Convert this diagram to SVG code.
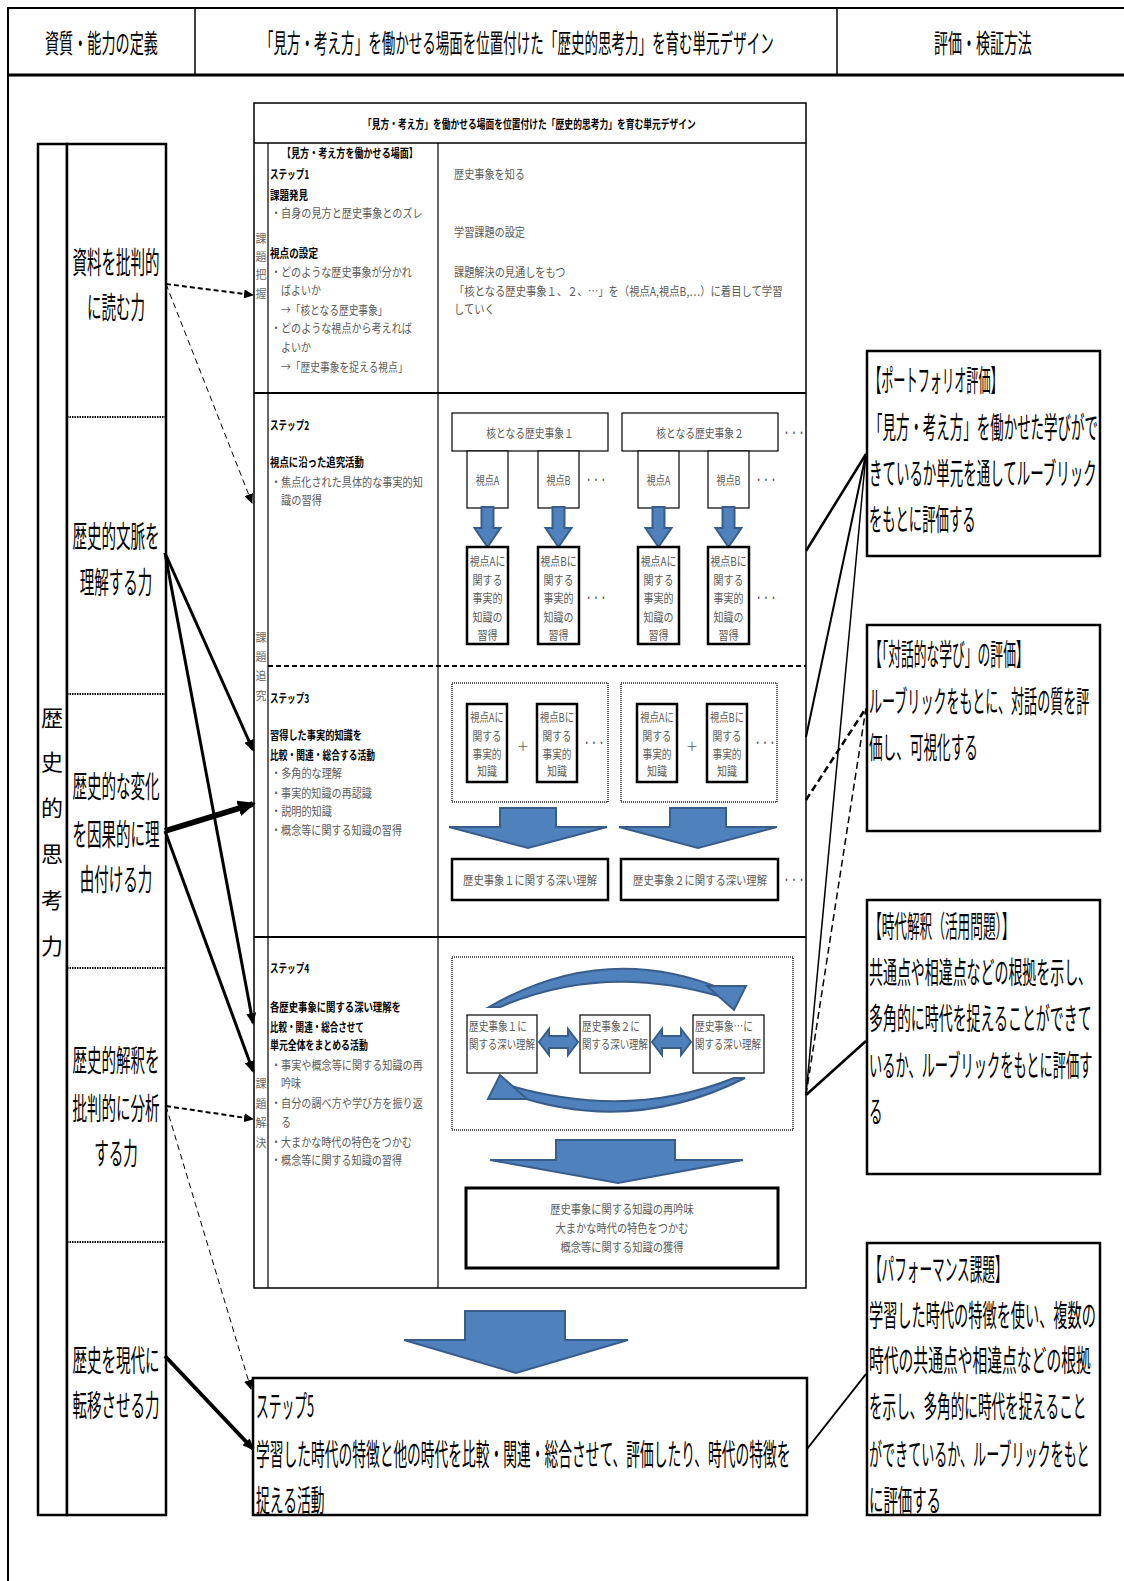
<svg xmlns="http://www.w3.org/2000/svg" width="1124" height="1581" viewBox="0 0 1124 1581">
<style>
text{font-family:"Noto Sans CJK JP","Noto Sans",sans-serif;dominant-baseline:central}
.hd{font-size:26px;fill:#000}
.lf{font-size:30px;fill:#000;text-anchor:middle}
.vt{font-size:22px;fill:#000;text-anchor:middle}
.tt{font-size:12px;fill:#000;font-weight:bold}
.sb{font-size:12px;fill:#000;font-weight:bold}
.sm{font-size:12px;fill:#5a5a5a}
.smc{font-size:12px;fill:#5a5a5a;text-anchor:middle}
.lb{font-size:11px;fill:#6a6a6a;text-anchor:middle}
.rb{font-size:30px;fill:#000}
.bx{fill:#fff;stroke:#000;stroke-width:1.2}
.tk{fill:#fff;stroke:#000;stroke-width:2.5}
.dot{fill:none;stroke:#555;stroke-width:2;stroke-dasharray:1 1}
.blue{fill:#4f81bd;stroke:#385d8a;stroke-width:2}
.ln{stroke:#000;fill:none}
</style>
<defs>
<marker id="ah" viewBox="0 0 12 10" refX="10" refY="5" markerWidth="12" markerHeight="10" markerUnits="userSpaceOnUse" orient="auto"><path d="M0,0 L12,5 L0,10 z" fill="#000"/></marker>
<marker id="ahL" viewBox="0 0 18 16" refX="15" refY="8" markerWidth="18" markerHeight="16" markerUnits="userSpaceOnUse" orient="auto"><path d="M0,0 L18,8 L0,16 z" fill="#000"/></marker>
<marker id="ahS" viewBox="0 0 10 9" refX="9" refY="4.5" markerWidth="10" markerHeight="9" markerUnits="userSpaceOnUse" orient="auto"><path d="M0,0 L10,4.5 L0,9 z" fill="#000"/></marker>
</defs>
<rect width="1124" height="1581" fill="#fff"/>

<g id="header">
<line class="ln" x1="8" y1="8" x2="1124" y2="8" stroke-width="2"/>
<line class="ln" x1="8" y1="75" x2="1124" y2="75" stroke-width="3"/>
<line class="ln" x1="8" y1="7" x2="8" y2="1581" stroke-width="2"/>
<line class="ln" x1="195" y1="8" x2="195" y2="75" stroke-width="1.5"/>
<line class="ln" x1="837" y1="8" x2="837" y2="75" stroke-width="1.5"/>
<text class="hd" transform="translate(45,42) scale(.543,1)">資質・能力の定義</text>
<text class="hd" transform="translate(260,42) scale(.52,1)">「見方・考え方」を働かせる場面を位置付けた「歴史的思考力」を育む単元デザイン</text>
<text class="hd" transform="translate(934,42) scale(.538,1)">評価・検証方法</text>
</g>

<g id="competencies">
<rect x="38" y="144" width="29" height="1371" fill="#fff" stroke="#000" stroke-width="2.5"/>
<rect x="67" y="144" width="99" height="1371" fill="#fff" stroke="#000" stroke-width="2.5"/>
<g class="ln" stroke-width="2" stroke-dasharray="1.5 1" stroke="#333">
<line x1="67" y1="417" x2="166" y2="417"/>
<line x1="67" y1="694" x2="166" y2="694"/>
<line x1="67" y1="968" x2="166" y2="968"/>
<line x1="67" y1="1242" x2="166" y2="1242"/>
</g>
<text class="vt" x="52" y="716">歴</text>
<text class="vt" x="52" y="760">史</text>
<text class="vt" x="52" y="806">的</text>
<text class="vt" x="52" y="852">思</text>
<text class="vt" x="52" y="898">考</text>
<text class="vt" x="52" y="944">力</text>
<g id="c1"><text class="lf" transform="translate(116,260) scale(.485,1)">資料を批判的</text><text class="lf" transform="translate(116,305) scale(.485,1)">に読む力</text></g>
<g id="c2"><text class="lf" transform="translate(116,534) scale(.485,1)">歴史的文脈を</text><text class="lf" transform="translate(116,580) scale(.485,1)">理解する力</text></g>
<g id="c3"><text class="lf" transform="translate(116,784) scale(.485,1)">歴史的な変化</text><text class="lf" transform="translate(116,832) scale(.485,1)">を因果的に理</text><text class="lf" transform="translate(116,877) scale(.485,1)">由付ける力</text></g>
<g id="c4"><text class="lf" transform="translate(116,1058) scale(.485,1)">歴史的解釈を</text><text class="lf" transform="translate(116,1106) scale(.485,1)">批判的に分析</text><text class="lf" transform="translate(116,1151) scale(.485,1)">する力</text></g>
<g id="c5"><text class="lf" transform="translate(116,1358) scale(.485,1)">歴史を現代に</text><text class="lf" transform="translate(116,1403) scale(.485,1)">転移させる力</text></g>
</g>

<g id="unit-table">
<rect x="254" y="103" width="552" height="1185" fill="#fff" stroke="#000" stroke-width="1.5"/>
<line class="ln" x1="254" y1="143" x2="806" y2="143" stroke-width="1.5"/>
<line class="ln" x1="268" y1="143" x2="268" y2="1288" stroke-width="1.2"/>
<line class="ln" x1="438" y1="143" x2="438" y2="1288" stroke-width="1.2"/>
<line class="ln" x1="254" y1="393" x2="806" y2="393" stroke-width="2"/>
<line class="ln" x1="268" y1="666" x2="806" y2="666" stroke-width="2" stroke-dasharray="5 3"/>
<line class="ln" x1="254" y1="937" x2="806" y2="937" stroke-width="2"/>
<text class="tt" transform="translate(363,124) scale(.73,1)">「見方・考え方」を働かせる場面を位置付けた「歴史的思考力」を育む単元デザイン</text>
<text class="lb" x="261" y="238">課</text><text class="lb" x="261" y="256">題</text><text class="lb" x="261" y="274">把</text><text class="lb" x="261" y="293">握</text>
<text class="lb" x="261" y="637">課</text><text class="lb" x="261" y="656">題</text><text class="lb" x="261" y="675">追</text><text class="lb" x="261" y="695">究</text>
<text class="lb" x="261" y="1083">課</text><text class="lb" x="261" y="1103">題</text><text class="lb" x="261" y="1122">解</text><text class="lb" x="261" y="1142">決</text>
</g>

<g id="step1">
<text class="sb" transform="translate(282,153) scale(.756,1)">【見方・考え方を働かせる場面】</text>
<text class="sb" transform="translate(270,174) scale(.714,1)">ステップ1</text>
<text class="sb" transform="translate(270,194) scale(.79,1)">課題発見</text>
<text class="sm" transform="translate(271,213) scale(.844,1)">・自身の見方と歴史事象とのズレ</text>
<text class="sb" transform="translate(270,252) scale(.8,1)">視点の設定</text>
<text class="sm" transform="translate(271,272) scale(.839,1)">・どのような歴史事象が分かれ</text>
<text class="sm" transform="translate(281,290) scale(.833,1)">ばよいか</text>
<text class="sm" transform="translate(281,310) scale(.81,1)">→「核となる歴史事象」</text>
<text class="sm" transform="translate(271,328) scale(.839,1)">・どのような視点から考えれば</text>
<text class="sm" transform="translate(281,347) scale(.833,1)">よいか</text>
<text class="sm" transform="translate(281,367) scale(.814,1)">→「歴史事象を捉える視点」</text>
<text class="sm" transform="translate(454,174) scale(.845,1)">歴史事象を知る</text>
<text class="sm" transform="translate(454,232) scale(.845,1)">学習課題の設定</text>
<text class="sm" transform="translate(454,272) scale(.848,1)">課題解決の見通しをもつ</text>
<text class="sm" transform="translate(454,291) scale(.861,1)">「核となる歴史事象１、２、…」を（視点A,視点B,…）に着目して学習</text>
<text class="sm" transform="translate(454,309) scale(.854,1)">していく</text>
</g>

<g id="step2">
<text class="sb" transform="translate(270,425) scale(.714,1)">ステップ2</text>
<text class="sb" transform="translate(270,462) scale(.783,1)">視点に沿った追究活動</text>
<text class="sm" transform="translate(271,482) scale(.844,1)">・焦点化された具体的な事実的知</text>
<text class="sm" transform="translate(281,500) scale(.854,1)">識の習得</text>
<g id="core1"><rect class="bx" x="452" y="413" width="156" height="38"/><text class="smc" transform="translate(530,433) scale(.815,1)">核となる歴史事象１</text></g>
<g id="core2"><rect class="bx" x="622" y="413" width="156" height="38"/><text class="smc" transform="translate(700,433) scale(.815,1)">核となる歴史事象２</text></g>
<text class="smc" transform="translate(794,433) scale(.62,1)">・・・</text>
<g id="vp1"><rect class="bx" x="467" y="451" width="41" height="57"/><text class="smc" transform="translate(487.5,480) scale(.76,1)">視点A</text></g>
<g id="vp2"><rect class="bx" x="538" y="451" width="41" height="57"/><text class="smc" transform="translate(558.5,480) scale(.76,1)">視点B</text></g>
<g id="vp3"><rect class="bx" x="638" y="451" width="41" height="57"/><text class="smc" transform="translate(658.5,480) scale(.76,1)">視点A</text></g>
<g id="vp4"><rect class="bx" x="708" y="451" width="41" height="57"/><text class="smc" transform="translate(728.5,480) scale(.76,1)">視点B</text></g>
<text class="smc" transform="translate(596,480) scale(.61,1)">・・・</text>
<text class="smc" transform="translate(766,480) scale(.61,1)">・・・</text>
<polygon class="blue" points="481.5,507 493.5,507 493.5,528 500.5,528 487.5,547 474.5,528 481.5,528"/>
<polygon class="blue" points="552.5,507 564.5,507 564.5,528 571.5,528 558.5,547 545.5,528 552.5,528"/>
<polygon class="blue" points="652.5,507 664.5,507 664.5,528 671.5,528 658.5,547 645.5,528 652.5,528"/>
<polygon class="blue" points="722.5,507 734.5,507 734.5,528 741.5,528 728.5,547 715.5,528 722.5,528"/>
<g id="fk1"><rect class="tk" x="467" y="547" width="41" height="97"/><text class="smc" transform="translate(487.5,561) scale(.826,1)">視点Aに</text><text class="smc" transform="translate(487.5,580) scale(.833,1)">関する</text><text class="smc" transform="translate(487.5,598) scale(.833,1)">事実的</text><text class="smc" transform="translate(487.5,617) scale(.833,1)">知識の</text><text class="smc" transform="translate(487.5,635) scale(.833,1)">習得</text></g>
<g id="fk2"><rect class="tk" x="538" y="547" width="41" height="97"/><text class="smc" transform="translate(558.5,561) scale(.826,1)">視点Bに</text><text class="smc" transform="translate(558.5,580) scale(.833,1)">関する</text><text class="smc" transform="translate(558.5,598) scale(.833,1)">事実的</text><text class="smc" transform="translate(558.5,617) scale(.833,1)">知識の</text><text class="smc" transform="translate(558.5,635) scale(.833,1)">習得</text></g>
<g id="fk3"><rect class="tk" x="638" y="547" width="41" height="97"/><text class="smc" transform="translate(658.5,561) scale(.826,1)">視点Aに</text><text class="smc" transform="translate(658.5,580) scale(.833,1)">関する</text><text class="smc" transform="translate(658.5,598) scale(.833,1)">事実的</text><text class="smc" transform="translate(658.5,617) scale(.833,1)">知識の</text><text class="smc" transform="translate(658.5,635) scale(.833,1)">習得</text></g>
<g id="fk4"><rect class="tk" x="708" y="547" width="41" height="97"/><text class="smc" transform="translate(728.5,561) scale(.826,1)">視点Bに</text><text class="smc" transform="translate(728.5,580) scale(.833,1)">関する</text><text class="smc" transform="translate(728.5,598) scale(.833,1)">事実的</text><text class="smc" transform="translate(728.5,617) scale(.833,1)">知識の</text><text class="smc" transform="translate(728.5,635) scale(.833,1)">習得</text></g>
<text class="smc" transform="translate(596,598) scale(.61,1)">・・・</text>
<text class="smc" transform="translate(766,598) scale(.61,1)">・・・</text>
</g>

<g id="step3">
<text class="sb" transform="translate(270,698) scale(.714,1)">ステップ3</text>
<text class="sb" transform="translate(270,735) scale(.767,1)">習得した事実的知識を</text>
<text class="sb" transform="translate(270,755) scale(.729,1)">比較・関連・総合する活動</text>
<text class="sm" transform="translate(271,773) scale(.845,1)">・多角的な理解</text>
<text class="sm" transform="translate(271,793) scale(.842,1)">・事実的知識の再認識</text>
<text class="sm" transform="translate(271,811) scale(.847,1)">・説明的知識</text>
<text class="sm" transform="translate(271,830) scale(.84,1)">・概念等に関する知識の習得</text>
<rect class="dot" x="452" y="683" width="156" height="119"/>
<rect class="dot" x="621" y="683" width="156" height="119"/>
<g id="k1"><rect class="tk" x="467" y="704" width="40" height="78"/><text class="smc" transform="translate(487,717) scale(.78,1)">視点Aに</text><text class="smc" transform="translate(487,735) scale(.806,1)">関する</text><text class="smc" transform="translate(487,753) scale(.806,1)">事実的</text><text class="smc" transform="translate(487,771) scale(.833,1)">知識</text></g>
<g id="k2"><rect class="tk" x="537" y="704" width="40" height="78"/><text class="smc" transform="translate(557,717) scale(.78,1)">視点Bに</text><text class="smc" transform="translate(557,735) scale(.806,1)">関する</text><text class="smc" transform="translate(557,753) scale(.806,1)">事実的</text><text class="smc" transform="translate(557,771) scale(.833,1)">知識</text></g>
<g id="k3"><rect class="tk" x="637" y="704" width="40" height="78"/><text class="smc" transform="translate(657,717) scale(.78,1)">視点Aに</text><text class="smc" transform="translate(657,735) scale(.806,1)">関する</text><text class="smc" transform="translate(657,753) scale(.806,1)">事実的</text><text class="smc" transform="translate(657,771) scale(.833,1)">知識</text></g>
<g id="k4"><rect class="tk" x="707" y="704" width="40" height="78"/><text class="smc" transform="translate(727,717) scale(.78,1)">視点Bに</text><text class="smc" transform="translate(727,735) scale(.806,1)">関する</text><text class="smc" transform="translate(727,753) scale(.806,1)">事実的</text><text class="smc" transform="translate(727,771) scale(.833,1)">知識</text></g>
<text class="smc" x="523" y="745">＋</text>
<text class="smc" x="692" y="745">＋</text>
<text class="smc" transform="translate(594,743) scale(.61,1)">・・・</text>
<text class="smc" transform="translate(765,743) scale(.61,1)">・・・</text>
<polygon class="blue" points="500,808 556,808 556,827 607,827 528,848 449,827 500,827"/>
<polygon class="blue" points="670,808 726,808 726,827 777,827 698,848 619,827 670,827"/>
<g id="du1"><rect class="tk" x="452" y="859" width="156" height="41"/><text class="smc" transform="translate(530,880) scale(.859,1)">歴史事象１に関する深い理解</text></g>
<g id="du2"><rect class="tk" x="621" y="859" width="157" height="41"/><text class="smc" transform="translate(700,880) scale(.859,1)">歴史事象２に関する深い理解</text></g>
<text class="smc" transform="translate(794,880) scale(.62,1)">・・・</text>
</g>

<g id="step4">
<text class="sb" transform="translate(270,968) scale(.714,1)">ステップ4</text>
<text class="sb" transform="translate(270,1007) scale(.78,1)">各歴史事象に関する深い理解を</text>
<text class="sb" transform="translate(270,1027) scale(.712,1)">比較・関連・総合させて</text>
<text class="sb" transform="translate(270,1045) scale(.742,1)">単元全体をまとめる活動</text>
<text class="sm" transform="translate(271,1065) scale(.844,1)">・事実や概念等に関する知識の再</text>
<text class="sm" transform="translate(281,1083) scale(.833,1)">吟味</text>
<text class="sm" transform="translate(271,1103) scale(.844,1)">・自分の調べ方や学び方を振り返</text>
<text class="sm" transform="translate(281,1122) scale(.84,1)">る</text>
<text class="sm" transform="translate(271,1142) scale(.839,1)">・大まかな時代の特色をつかむ</text>
<text class="sm" transform="translate(271,1160) scale(.84,1)">・概念等に関する知識の習得</text>
<rect class="dot" x="452" y="957" width="341" height="173"/>
<path class="blue" d="M489,1007 Q604,941 722,989 L722,997 Q604,962 500,1007 Z"/>
<polygon class="blue" points="707,986 746,986 734,1010"/>
<path class="blue" d="M745,1078 Q630,1136 511,1094 L511,1086 Q630,1120 734,1078 Z"/>
<polygon class="blue" points="527,1099 488,1099 500,1075"/>
<g id="e1"><rect class="bx" x="467" y="1015" width="70" height="58" stroke-width="2"/><text class="sm" transform="translate(469,1025) scale(.806,1)">歴史事象１に</text><text class="sm" transform="translate(469,1043) scale(.786,1)">関する深い理解</text></g>
<g id="e2"><rect class="bx" x="580" y="1015" width="70" height="58" stroke-width="2"/><text class="sm" transform="translate(582,1025) scale(.806,1)">歴史事象２に</text><text class="sm" transform="translate(582,1043) scale(.786,1)">関する深い理解</text></g>
<g id="e3"><rect class="bx" x="693" y="1015" width="71" height="58" stroke-width="2"/><text class="sm" transform="translate(695,1025) scale(.806,1)">歴史事象…に</text><text class="sm" transform="translate(695,1043) scale(.786,1)">関する深い理解</text></g>
<path class="blue" d="M539,1042 L549,1029 L549,1036 L568,1036 L568,1029 L578,1042 L568,1055 L568,1048 L549,1048 L549,1055 Z"/>
<path class="blue" d="M652,1042 L662,1029 L662,1036 L681,1036 L681,1029 L691,1042 L681,1055 L681,1048 L662,1048 L662,1055 Z"/>
<polygon class="blue" points="556,1140 675,1140 675,1160 743,1160 618,1183 490,1160 556,1160"/>
<g id="sum"><rect x="466" y="1188" width="312" height="80" fill="#fff" stroke="#000" stroke-width="3"/>
<text class="smc" transform="translate(622,1209) scale(.857,1)">歴史事象に関する知識の再吟味</text>
<text class="smc" transform="translate(622,1228) scale(.853,1)">大まかな時代の特色をつかむ</text>
<text class="smc" transform="translate(622,1247) scale(.854,1)">概念等に関する知識の獲得</text></g>
</g>

<g id="step5">
<polygon class="blue" points="465,1311 565,1311 565,1340 628,1340 516,1373 404,1340 465,1340"/>
<rect x="253" y="1378" width="554" height="137" fill="#fff" stroke="#000" stroke-width="2.5"/>
<text class="rb" transform="translate(256,1404) scale(.425,1)">ステップ5</text>
<text class="rb" transform="translate(256,1452) scale(.458,1)">学習した時代の特徴と他の時代を比較・関連・総合させて、評価したり、時代の特徴を</text>
<text class="rb" transform="translate(256,1498) scale(.46,1)">捉える活動</text>
</g>

<g id="eval1"><rect x="867" y="351" width="233" height="205" fill="#fff" stroke="#000" stroke-width="2.5"/>
<text class="rb" transform="translate(869,378) scale(.406,1)">【ポートフォリオ評価】</text>
<text class="rb" transform="translate(869,425) scale(.449,1)">「見方・考え方」を働かせた学びがで</text>
<text class="rb" transform="translate(869,471) scale(.449,1)">きているか単元を通してルーブリック</text>
<text class="rb" transform="translate(869,517) scale(.446,1)">をもとに評価する</text></g>
<g id="eval2"><rect x="867" y="625" width="233" height="206" fill="#fff" stroke="#000" stroke-width="2.5"/>
<text class="rb" transform="translate(869,652) scale(.426,1)">【「対話的な学び」の評価】</text>
<text class="rb" transform="translate(869,699) scale(.435,1)">ルーブリックをもとに、対話の質を評</text>
<text class="rb" transform="translate(869,745) scale(.454,1)">価し、可視化する</text></g>
<g id="eval3"><rect x="867" y="900" width="233" height="274" fill="#fff" stroke="#000" stroke-width="2.5"/>
<text class="rb" transform="translate(869,924) scale(.422,1)">【時代解釈（活用問題）】</text>
<text class="rb" transform="translate(869,970) scale(.465,1)">共通点や相違点などの根拠を示し、</text>
<text class="rb" transform="translate(869,1016) scale(.465,1)">多角的に時代を捉えることができて</text>
<text class="rb" transform="translate(869,1063) scale(.441,1)">いるか、ルーブリックをもとに評価す</text>
<text class="rb" transform="translate(869,1109) scale(.45,1)">る</text></g>
<g id="eval4"><rect x="867" y="1243" width="233" height="272" fill="#fff" stroke="#000" stroke-width="2.5"/>
<text class="rb" transform="translate(869,1267) scale(.421,1)">【パフォーマンス課題】</text>
<text class="rb" transform="translate(869,1313) scale(.473,1)">学習した時代の特徴を使い、複数の</text>
<text class="rb" transform="translate(869,1358) scale(.493,1)">時代の共通点や相違点などの根拠</text>
<text class="rb" transform="translate(869,1404) scale(.454,1)">を示し、多角的に時代を捉えること</text>
<text class="rb" transform="translate(869,1452) scale(.435,1)">ができているか、ルーブリックをもと</text>
<text class="rb" transform="translate(869,1498) scale(.48,1)">に評価する</text></g>

<g id="connectors" fill="none" stroke="#000">
<line x1="166" y1="284" x2="253" y2="295" stroke-width="2" stroke-dasharray="5 3" marker-end="url(#ahS)"/>
<line x1="166" y1="284" x2="252" y2="503" stroke-width="1" stroke-dasharray="6 4" marker-end="url(#ahS)"/>
<line x1="165" y1="553" x2="253" y2="750" stroke-width="3" marker-end="url(#ah)"/>
<line x1="165" y1="553" x2="253" y2="1023" stroke-width="3" marker-end="url(#ah)"/>
<line x1="165" y1="831" x2="253" y2="804" stroke-width="6" marker-end="url(#ahL)"/>
<line x1="165" y1="831" x2="253" y2="1071" stroke-width="3" marker-end="url(#ah)"/>
<line x1="166" y1="1106" x2="253" y2="1119" stroke-width="2" stroke-dasharray="5 3" marker-end="url(#ahS)"/>
<line x1="166" y1="1106" x2="251" y2="1389" stroke-width="1" stroke-dasharray="6 4" marker-end="url(#ahS)"/>
<line x1="165" y1="1356" x2="253" y2="1449" stroke-width="4" marker-end="url(#ah)"/>
<line x1="806" y1="551" x2="866" y2="454" stroke-width="2.5"/>
<line x1="806" y1="737" x2="866" y2="454" stroke-width="2"/>
<line x1="806" y1="1095" x2="866" y2="454" stroke-width="1.5"/>
<line x1="806" y1="800" x2="866" y2="708" stroke-width="2.5" stroke-dasharray="7 4"/>
<line x1="806" y1="1095" x2="866" y2="708" stroke-width="1.5" stroke-dasharray="7 4"/>
<line x1="806" y1="1095" x2="866" y2="1041" stroke-width="2.5"/>
<line x1="807" y1="1449" x2="866" y2="1374" stroke-width="2"/>
</g>
</svg>
